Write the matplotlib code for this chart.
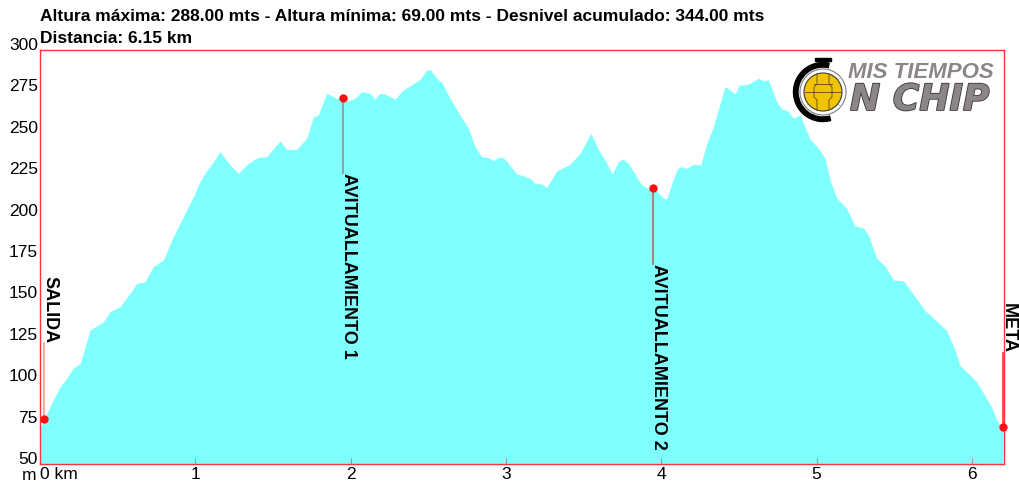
import matplotlib
matplotlib.use("Agg")
import matplotlib.pyplot as plt
from matplotlib.patches import Circle, Wedge, Rectangle
import matplotlib.patheffects as pe
import matplotlib.transforms as mtransforms

# ---------------- data ----------------
dist_km = [
    0.000, 0.064, 0.129, 0.172, 0.214, 0.258, 0.279, 0.322, 0.408, 0.451,
    0.515, 0.580, 0.623, 0.676, 0.730, 0.794, 0.858, 0.923, 0.987, 1.030,
    1.062, 1.116, 1.159, 1.191, 1.234, 1.277, 1.341, 1.406, 1.460, 1.545,
    1.589, 1.653, 1.717, 1.760, 1.792, 1.846, 1.911, 1.953, 1.985, 2.028,
    2.071, 2.125, 2.157, 2.189, 2.222, 2.286, 2.339, 2.383, 2.447, 2.490,
    2.511, 2.565, 2.587, 2.640, 2.704, 2.758, 2.801, 2.844, 2.887, 2.919,
    2.951, 2.983, 3.015, 3.070, 3.112, 3.155, 3.187, 3.231, 3.263, 3.327,
    3.413, 3.477, 3.548, 3.595, 3.638, 3.685, 3.724, 3.756, 3.788, 3.874,
    3.917, 3.949, 4.014, 4.035, 4.068, 4.100, 4.121, 4.164, 4.207, 4.254,
    4.293, 4.336, 4.379, 4.411, 4.443, 4.475, 4.503, 4.540, 4.572, 4.625,
    4.657, 4.690, 4.744, 4.776, 4.808, 4.851, 4.894, 4.958, 5.012, 5.055,
    5.087, 5.130, 5.194, 5.248, 5.301, 5.333, 5.388, 5.441, 5.495, 5.559,
    5.699, 5.742, 5.838, 5.892, 5.924, 5.967, 6.031, 6.128, 6.160, 6.199,
]
elev_m = [
    71.6, 84.6, 96.7, 101.8, 107.8, 110.8, 116.9, 130.9, 135.9, 142.0,
    145.0, 153.1, 159.1, 160.1, 169.2, 173.2, 187.3, 199.3, 211.4, 220.5,
    225.6, 232.6, 238.6, 234.6, 229.5, 225.6, 231.6, 235.2, 235.6, 245.1,
    240.0, 240.0, 246.7, 259.7, 260.8, 273.9, 270.8, 271.2, 269.2, 270.8,
    274.8, 273.9, 270.2, 273.9, 273.4, 270.4, 275.9, 278.3, 282.3, 287.9,
    288.3, 281.9, 280.5, 270.8, 260.8, 252.7, 241.6, 235.6, 235.0, 233.2,
    235.2, 235.0, 231.6, 225.1, 224.1, 222.5, 219.5, 219.1, 217.1, 227.1,
    231.0, 237.6, 249.7, 240.0, 233.6, 225.1, 232.6, 234.0, 231.6, 218.5,
    216.5, 216.9, 210.5, 209.9, 219.5, 227.5, 229.5, 228.6, 231.0, 230.6,
    243.7, 253.7, 267.8, 277.9, 275.9, 273.3, 278.9, 278.9, 279.9, 282.9,
    281.5, 281.9, 268.8, 264.2, 263.8, 258.8, 260.8, 246.1, 240.7, 234.6,
    221.5, 210.5, 204.4, 193.7, 192.7, 188.3, 174.2, 169.6, 161.1, 160.7,
    142.6, 139.0, 130.5, 118.8, 109.4, 105.6, 99.7, 84.2, 76.6, 72.2,
]

point_names = ["SALIDA", "AVITUALLAMIENTO 1", "AVITUALLAMIENTO 2", "META"]
point_km = [0.026, 1.953, 3.949, 6.199]
point_elev = [77.2, 271.2, 216.9, 72.2]

y_ticks = [50, 75, 100, 125, 150, 175, 200, 225, 250, 275, 300]
x_ticks = [0, 1, 2, 3, 4, 5, 6]
x_tick_labels = ["0 km", "1", "2", "3", "4", "5", "6"]

title_line1 = "Altura máxima: 288.00 mts - Altura mínima: 69.00 mts - Desnivel acumulado: 344.00 mts"
title_line2 = "Distancia: 6.15 km"

# ---------------- layout / style ----------------
W, H = 1020, 483
label_end = [123.1, 225.7, 170.8, 116.9]      # elevation where leader line meets label
label_above = [True, False, False, True]
line_colors = ["#ff9a9a", "#9a9090", "#c86464", "#ff3030"]
LABEL_FONT = ["Liberation Sans", "DejaVu Sans"]
TICK_FONT = ["Liberation Sans", "DejaVu Sans"]

fig = plt.figure(figsize=(W / 100, H / 100), dpi=100)
fig.patch.set_facecolor("white")
L, R, T, B = 40, 1004, 50, 464
ax = fig.add_axes([L / W, (H - B) / H, (R - L) / W, (B - T) / H])

ax.fill_between(dist_km, elev_m, 50, color="#80ffff", lw=0, zorder=1)
ax.set_xlim(0, 6.207)
ax.set_ylim(50, 300)

for s in ax.spines.values():
    s.set_color("#ff3333")
    s.set_linewidth(1.0)
    s.set_zorder(5)

ax.set_yticks(y_ticks)
ax.set_yticklabels([str(v) for v in y_ticks], fontfamily=TICK_FONT, fontsize=12.5)
ax.set_xticks(x_ticks)
ax.set_xticklabels(x_tick_labels, fontfamily=TICK_FONT, fontsize=12.5)
ax.tick_params(axis="y", length=0, pad=1.5)
ax.tick_params(axis="x", direction="in", length=4, color="#999999", pad=2)
for lab in ax.get_yticklabels():
    lab.set_verticalalignment("baseline")
ax.get_xticklabels()[0].set_horizontalalignment("left")

# markers with leader lines and vertical labels
shift = mtransforms.ScaledTranslation(-3 / 100, 0, fig.dpi_scale_trans)
for name, xk, ye, ye2, above, col in zip(point_names, point_km, point_elev,
                                         label_end, label_above, line_colors):
    ax.plot([xk, xk], [ye, ye2], color=col, lw=1.2, zorder=3, clip_on=False)
    ax.plot([xk], [ye], "o", color="#ff1010", ms=5, zorder=6, clip_on=False)
    ax.text(xk, ye2, name, rotation=-90, rotation_mode="default",
            ha="left", va="bottom" if above else "top",
            fontfamily=LABEL_FONT, fontweight="bold", fontsize=13,
            color="black", zorder=4, clip_on=False,
            transform=ax.transData + shift)

# titles and unit label
fig.text(L / W, 1 - 21 / H, title_line1, fontfamily=TICK_FONT,
         fontweight="bold", fontsize=12.5, va="baseline", ha="left")
fig.text(L / W, 1 - 43.3 / H, title_line2, fontfamily=TICK_FONT,
         fontweight="bold", fontsize=12.5, va="baseline", ha="left")
fig.text(36 / W, 1 - 480 / H, "m", fontfamily=TICK_FONT, fontsize=12.5,
         ha="right", va="baseline")

# ---------------- logo ----------------
lx0, lx1, ly0, ly1 = 790, 1000, 52, 126
lax = fig.add_axes([lx0 / W, (H - ly1) / H, (lx1 - lx0) / W, (ly1 - ly0) / H])
lax.set_xlim(lx0, lx1)
lax.set_ylim(ly1, ly0)
lax.axis("off")
lax.patch.set_alpha(0)
cx, cy = 823, 92
lax.add_patch(Circle((cx, cy), 26, color="white", zorder=1))
lax.add_patch(Wedge((cx, cy), 29.5, 75, 282, width=4.5, color="black", zorder=2))
lax.add_patch(Circle((cx, cy), 23, fill=False, ec="#8a8a8a", lw=0.9, zorder=2))
lax.add_patch(Circle((cx, cy), 19, fc="#f2c400", ec="#3a3a3a", lw=0.8, zorder=3))
lax.add_patch(Rectangle((815, 58), 16, 2.5, color="black", zorder=3))
lax.add_patch(Rectangle((821, 60), 4, 3.5, color="black", zorder=3))
chip_lines = [
    ([805, 841], [92, 92]),
    ([817, 817, 814, 814], [74, 84, 87, 92]),
    ([829, 829, 832, 832], [74, 84, 87, 92]),
    ([817, 817, 814, 814], [110, 100, 97, 92]),
    ([829, 829, 832, 832], [110, 100, 97, 92]),
    ([814, 832], [84, 84]),
]
for xs, ys in chip_lines:
    lax.plot(xs, ys, color="#5a4a10", lw=0.6, zorder=4)
lax.text(848, 78, "MIS TIEMPOS", fontfamily=["Liberation Sans", "DejaVu Sans"],
         fontweight="bold", fontstyle="italic", fontsize=16, color="#8c8686",
         ha="left", va="baseline", zorder=5)
lax.text(850, 110, "N CHIP", fontfamily=["DejaVu Sans"], fontweight="bold",
         fontstyle="italic", fontsize=26, color="#8c8686", ha="left",
         va="baseline", zorder=5,
         path_effects=[pe.withStroke(linewidth=1.2, foreground="#3a3535")])

fig.savefig("out.png", dpi=100, facecolor="white")
